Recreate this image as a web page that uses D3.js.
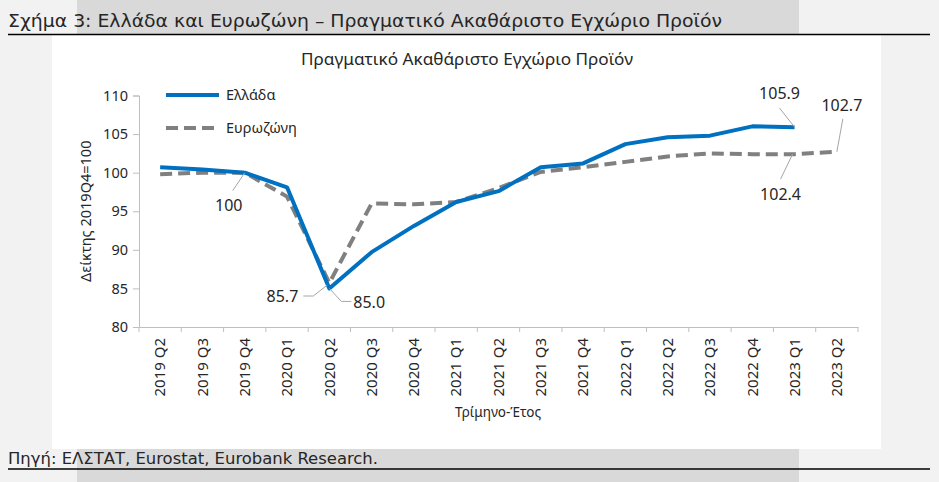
<!DOCTYPE html>
<html>
<head>
<meta charset="utf-8">
<script src="https://cdn.jsdelivr.net/npm/d3@7"></script>
<style>
  body { margin: 0; background: #f2f2f2; }
  svg { display: block; }
  text { fill: #262626; }
</style>
</head>
<body>
<svg id="chart"></svg>
<script>
// quarters shown on the x axis
var quarters = ["2019 Q2", "2019 Q3", "2019 Q4", "2020 Q1", "2020 Q2", "2020 Q3", "2020 Q4",
                "2021 Q1", "2021 Q2", "2021 Q3", "2021 Q4", "2022 Q1", "2022 Q2", "2022 Q3",
                "2022 Q4", "2023 Q1", "2023 Q2"];

// Greece real GDP index, 2019Q4 = 100 (no value yet for 2023 Q2)
var greece = [100.7, 100.4, 100.0, 98.1, 85.0, 89.7, 93.1, 96.2, 97.6, 100.7, 101.2,
              103.7, 104.6, 104.8, 106.0, 105.9, null];

// Eurozone real GDP index, 2019Q4 = 100
var eurozone = [99.8, 100.0, 100.0, 96.9, 85.7, 96.0, 95.9, 96.2, 98.0, 100.1, 100.7,
                101.4, 102.1, 102.5, 102.4, 102.4, 102.7];

var yTicks = [80, 85, 90, 95, 100, 105, 110];

// point labels: series, quarter index, text
var pointLabels = [
  {series: "eurozone", idx: 2, text: "100"},
  {series: "eurozone", idx: 4, text: "85.7"},
  {series: "greece", idx: 4, text: "85.0"},
  {series: "greece", idx: 15, text: "105.9"},
  {series: "eurozone", idx: 15, text: "102.4"},
  {series: "eurozone", idx: 16, text: "102.7"}
];

var width = 939, height = 482;
var blue = "#0070c0", grey = "#808080", leader = "#a6a6a6";
var chartFont = "'Noto Sans', 'Open Sans', sans-serif";
var headFont = "'DejaVu Sans Condensed', 'DejaVu Sans', sans-serif";

var svg = d3.select("#chart").attr("width", width).attr("height", height);

//page background pieces
svg.append("rect").attr("width", width).attr("height", height).style("fill", "#f2f2f2");
svg.append("rect").attr("x", 77).attr("y", 0).attr("width", 722).attr("height", 35).style("fill", "#d9d9d9");
svg.append("rect").attr("x", 77).attr("y", 449).attr("width", 722).attr("height", 33).style("fill", "#d9d9d9");
svg.append("rect").attr("x", 52).attr("y", 35).attr("width", 829).attr("height", 414).style("fill", "#ffffff");

//figure heading and rule
svg.append("text")
  .attr("x", 8).attr("y", 27)
  .attr("textLength", 714).attr("lengthAdjust", "spacingAndGlyphs")
  .style("font-family", headFont).style("font-size", "18px")
  .text("Σχήμα 3: Ελλάδα και Ευρωζώνη – Πραγματικό Ακαθάριστο Εγχώριο Προϊόν");
svg.append("line").attr("x1", 8).attr("x2", 930).attr("y1", 34.5).attr("y2", 34.5)
  .style("stroke", "#000").style("stroke-width", 1.5);

//source footer and rule
svg.append("text")
  .attr("x", 8).attr("y", 464)
  .attr("textLength", 370).attr("lengthAdjust", "spacingAndGlyphs")
  .style("font-family", headFont).style("font-size", "15px")
  .text("Πηγή: ΕΛΣΤΑΤ, Eurostat, Eurobank Research.");
svg.append("line").attr("x1", 8).attr("x2", 930).attr("y1", 469).attr("y2", 469)
  .style("stroke", "#000").style("stroke-width", 1.5);

//plot area
var plot = {left: 139, right: 858, top: 95.5, bottom: 327};

var x = d3.scaleBand().domain(quarters).range([plot.left, plot.right]);
var y = d3.scaleLinear().domain([80, 110]).range([plot.bottom, plot.top]);

//chart title
svg.append("text")
  .attr("x", 467).attr("y", 65)
  .attr("text-anchor", "middle")
  .attr("textLength", 332).attr("lengthAdjust", "spacingAndGlyphs")
  .style("font-family", chartFont).style("font-size", "16.5px")
  .text("Πραγματικό Ακαθάριστο Εγχώριο Προϊόν");

//y axis
var yAxis = svg.append("g")
  .attr("transform", "translate(" + plot.left + ",0)")
  .call(d3.axisLeft(y).tickValues(yTicks).tickSize(6).tickPadding(5));
yAxis.select(".domain").style("stroke", "#bfbfbf");
yAxis.selectAll(".tick line").style("stroke", "#bfbfbf");
yAxis.selectAll(".tick text").style("font-family", chartFont).style("font-size", "14.5px").style("fill", "#262626");

//x axis, ticks sit on the category boundaries
var xAxis = svg.append("g")
  .attr("transform", "translate(0," + plot.bottom + ")")
  .call(d3.axisBottom(x).tickSize(0).tickPadding(0));
xAxis.select(".domain").style("stroke", "#bfbfbf");
xAxis.selectAll(".tick text")
  .attr("transform", "rotate(-90)")
  .attr("x", -11).attr("y", 0).attr("dy", "0.35em")
  .attr("text-anchor", "end")
  .style("font-family", chartFont).style("font-size", "15px").style("fill", "#262626");

var bounds = quarters.map(function (q) { return x(q); }).concat([plot.right]);
svg.selectAll(".xbound").data(bounds).enter().append("line")
  .attr("class", "xbound")
  .attr("x1", function (d) { return d; }).attr("x2", function (d) { return d; })
  .attr("y1", plot.bottom).attr("y2", plot.bottom + 5)
  .style("stroke", "#bfbfbf");

//axis titles
svg.append("text")
  .attr("x", 498).attr("y", 417)
  .attr("text-anchor", "middle")
  .style("font-family", chartFont).style("font-size", "13.5px")
  .text("Τρίμηνο-Έτος");
svg.append("text")
  .attr("transform", "translate(91," + ((plot.top + plot.bottom) / 2) + ") rotate(-90)")
  .attr("text-anchor", "middle")
  .style("font-family", chartFont).style("font-size", "14.5px")
  .text("Δείκτης 2019Q4=100");

//series lines
var cx = function (i) { return x(quarters[i]) + x.bandwidth() / 2; };
var line = d3.line()
  .defined(function (d) { return d !== null; })
  .x(function (d, i) { return cx(i); })
  .y(function (d) { return y(d); });

svg.append("path").datum(eurozone)
  .attr("d", line)
  .style("fill", "none").style("stroke", grey).style("stroke-width", 4)
  .style("stroke-dasharray", "12,6");

svg.append("path").datum(greece)
  .attr("d", line)
  .style("fill", "none").style("stroke", blue).style("stroke-width", 4)
  .style("stroke-linejoin", "round");

//legend
var legend = [{name: "Ελλάδα", color: blue, dash: null, y: 95},
              {name: "Ευρωζώνη", color: grey, dash: "12,6", y: 128}];
var lg = svg.selectAll(".legend").data(legend).enter().append("g").attr("class", "legend");
lg.append("line")
  .attr("x1", 166).attr("x2", 219)
  .attr("y1", function (d) { return d.y; }).attr("y2", function (d) { return d.y; })
  .style("stroke", function (d) { return d.color; }).style("stroke-width", 4)
  .style("stroke-dasharray", function (d) { return d.dash; });
lg.append("text")
  .attr("x", 226).attr("y", function (d) { return d.y; }).attr("dy", "0.35em")
  .style("font-family", chartFont).style("font-size", "14.5px")
  .text(function (d) { return d.name; });

//data labels with leader lines, offsets relative to the point
var labelOffsets = {
  "100":   {path: [[0, 0], [-12, 18]], tx: -16, ty: 33, anchor: "middle"},
  "85.7":  {path: [[-2, 2], [-16, 13], [-26, 13]], tx: -31, ty: 13, anchor: "end"},
  "85.0":  {path: [[0, 0], [12, 13], [22, 13]], tx: 24, ty: 14, anchor: "start"},
  "105.9": {path: [[0, 0], [-15, -19]], tx: -15, ty: -34, anchor: "middle"},
  "102.4": {path: [[-2, 0], [-14, 25]], tx: -14, ty: 40, anchor: "middle"},
  "102.7": {path: [[0, 0], [6, -33]], tx: 5, ty: -46, anchor: "middle"}
};

pointLabels.forEach(function (lab) {
  var vals = lab.series === "greece" ? greece : eurozone;
  var px = cx(lab.idx), py = y(vals[lab.idx]);
  var off = labelOffsets[lab.text];
  svg.append("path")
    .attr("d", d3.line()(off.path.map(function (p) { return [px + p[0], py + p[1]]; })))
    .style("fill", "none").style("stroke", leader).style("stroke-width", 1);
  svg.append("text")
    .attr("x", px + off.tx).attr("y", py + off.ty).attr("dy", "0.35em")
    .attr("text-anchor", off.anchor)
    .style("font-family", chartFont).style("font-size", "16px")
    .text(lab.text);
});
</script>
</body>
</html>
